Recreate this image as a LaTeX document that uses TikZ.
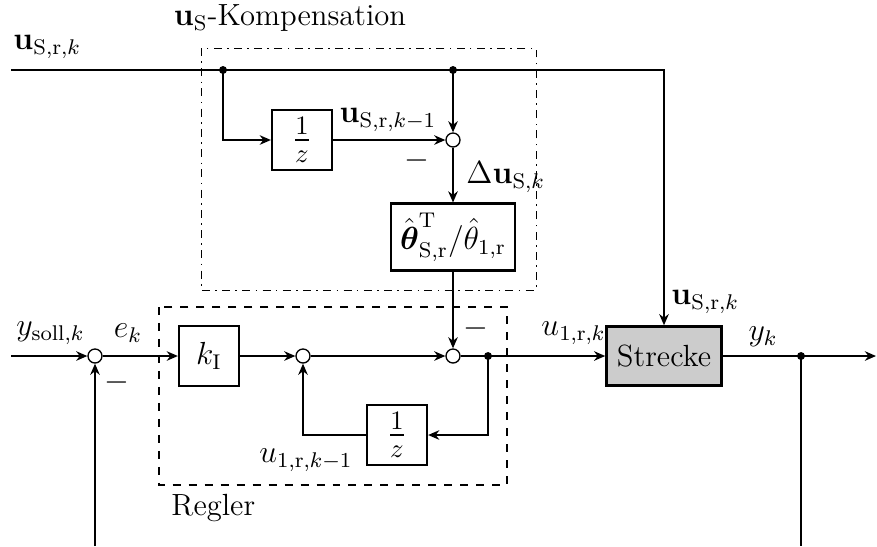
\documentclass[tikz,border=0pt]{standalone}
\usepackage{amsmath}
\usepackage{xcolor}
\usepackage{tikz}
\usetikzlibrary{arrows.meta}
\definecolor{plantgray}{RGB}{204,204,204}

\begin{document}
\begin{tikzpicture}[x=0.0132cm, y=-0.0132cm,
    line width=0.6pt,
    every node/.style={font=\fontsize{11.5}{14}\selectfont},
    arrow/.style={-{Stealth[length=4.2pt,width=3.6pt]}},
    block/.style={draw, line width=0.9pt, minimum width=0.79cm, minimum height=0.79cm, inner sep=1pt},
    delay/.style={block, font=\fontsize{14}{16}\selectfont},
    sumnode/.style={draw, circle, fill=white, inner sep=0pt, minimum size=0.185cm, line width=0.5pt},
    junction/.style={circle, fill=black, inner sep=0pt, minimum size=0.105cm},
    boxlabel/.style={inner sep=1pt}]
  \useasboundingbox (0,0) rectangle (877,546);

  % groupings
  \draw[dash dot, line width=0.35pt] (201,48) rectangle (536,290);
  \draw[dashed, line width=0.45pt] (159,307) rectangle (507,485);

  % blocks
  \node[block] (kI) at (209,356) {$k_{\mathrm{I}}$};
  \node[delay] (delayS) at (302,140) {$\frac{1}{z}$};
  \node[block, minimum width=1.64cm, minimum height=0.88cm] (theta) at (453,237)
    {$\hat{\boldsymbol{\theta}}^{\mathrm{T}}_{\mathrm{S,r}}/\hat{\theta}_{1,\mathrm{r}}$};
  \node[delay] (delayU) at (397,435) {$\frac{1}{z}$};
  \node[block, fill=plantgray, minimum width=1.52cm, minimum height=0.78cm] (plant) at (664,356) {Strecke};

  % summing points
  \node[sumnode] (sumE) at (95,356) {};
  \node[sumnode] (sumI) at (303,356) {};
  \node[sumnode] (sumU) at (453,356) {};
  \node[sumnode] (sumS) at (453,140) {};

  % free ends
  \coordinate (inS) at (11,70);
  \coordinate (inY) at (11,356);
  \coordinate (outY) at (876,356);
  \coordinate (fbDown) at (801,546);
  \coordinate (fbUp) at (95,546);

  % signal lines
  \draw[arrow] (inS) -| (plant.north);
  \draw[arrow] (223,70) |- (delayS);
  \draw[arrow] (delayS) -- (sumS);
  \draw[arrow] (453,70) -- (sumS);
  \draw[arrow] (sumS) -- (theta);
  \draw[arrow] (theta) -- (sumU);
  \draw[arrow] (inY) -- (sumE);
  \draw[arrow] (sumE) -- (kI);
  \draw[arrow] (kI) -- (sumI);
  \draw[arrow] (sumI) -- (sumU);
  \draw[arrow] (sumU) -- (plant);
  \draw[arrow] (488,356) |- (delayU);
  \draw[arrow] (delayU) -| (sumI);
  \draw[arrow] (plant) -- (outY);
  \draw (801,356) -- (fbDown);
  \draw[arrow] (fbUp) -- (sumE);

  % branch points
  \node[junction] (jS1) at (223,70) {};
  \node[junction] (jS2) at (453,70) {};
  \node[junction] (jU) at (488,356) {};
  \node[junction] (jY) at (801,356) {};

  % labels
  \node[boxlabel] (lblTitle) at (290,18) {$\mathbf{u}_{\mathrm{S}}$-Kompensation};
  \node[boxlabel, anchor=west] (lblReg) at (168,508) {Regler};
  \node[boxlabel, anchor=west] (lblUS) at (10,47) {$\mathbf{u}_{\mathrm{S},\mathrm{r},k}$};
  \node[boxlabel] (lblUSold) at (388,120) {$\mathbf{u}_{\mathrm{S},\mathrm{r},k-1}$};
  \node[boxlabel, anchor=west] (lblDU) at (463,177) {$\Delta\mathbf{u}_{\mathrm{S},k}$};
  \node[boxlabel, anchor=west] (lblUSp) at (668,302) {$\mathbf{u}_{\mathrm{S},\mathrm{r},k}$};
  \node[boxlabel, anchor=west] (lblY) at (13,333) {$y_{\mathrm{soll},k}$};
  \node[boxlabel] (lblE) at (128,333) {$e_k$};
  \node[boxlabel, anchor=west] (lblU) at (538,333) {$u_{1,\mathrm{r},k}$};
  \node[boxlabel, anchor=east] (lblUold) at (356,460) {$u_{1,\mathrm{r},k-1}$};
  \node[boxlabel] (lblYk) at (763,337) {$y_k$};
  \node[boxlabel] (minS) at (417,160) {$-$};
  \node[boxlabel] (minE) at (117,382) {$-$};
  \node[boxlabel] (minU) at (476,328) {$-$};
\end{tikzpicture}
\end{document}
